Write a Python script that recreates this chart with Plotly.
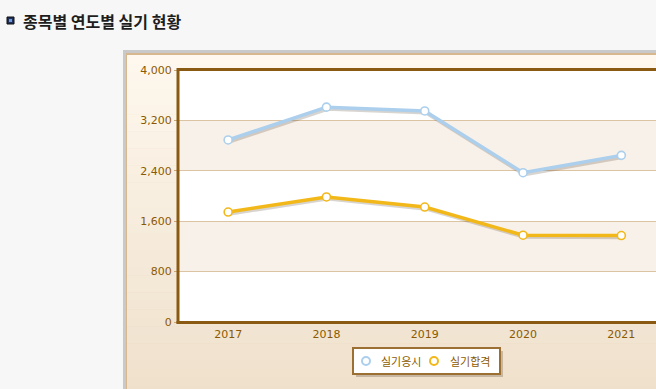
import plotly.graph_objects as go

years = ["2017", "2018", "2019", "2020", "2021"]
applied = [2890, 3410, 3350, 2370, 2645]   # 실기응시
passed = [1745, 1985, 1825, 1378, 1372]    # 실기합격
series_names = ["실기응시", "실기합격"]
title_text = "종목별 연도별 실기 현황"

W, H = 656, 389
L, T, B = 179, 70, 322           # plot area pixel edges
PW = W - L
PH = B - T

def px(x):
    return (x - L) / PW

def py(y):
    return (B - y) / PH

xi = list(range(len(years)))
fig = go.Figure()

BLUE = "#abcfec"
GOLD = "#f2b81a"
BROWN = "#8a5a12"
TICKC = "#8b5a00"

# shadows
for vals in (applied, passed):
    fig.add_trace(go.Scatter(
        x=[v + 0.012 for v in xi], y=[v - 30 for v in vals], mode="lines",
        line=dict(color="rgba(60,40,20,0.2)", width=3.5), showlegend=False, hoverinfo="skip"))

for nm, vals, c in zip(series_names, (applied, passed), (BLUE, GOLD)):
    fig.add_trace(go.Scatter(x=xi, y=vals, mode="lines+markers", name=nm,
                             line=dict(color=c, width=3.5),
                             marker=dict(size=8, color="white", line=dict(color=c, width=1.6)),
                             showlegend=False))

shapes = []
# container gray border
shapes.append(dict(type="rect", xref="paper", yref="paper", layer="below",
                   x0=px(123), x1=px(W + 20), y0=py(H + 20), y1=py(50),
                   fillcolor="#c9c9c9", line=dict(width=0)))
shapes.append(dict(type="rect", xref="paper", yref="paper", layer="below",
                   x0=px(126), x1=px(W + 20), y0=py(H + 20), y1=py(53),
                   fillcolor="#d7b88e", line=dict(width=0)))
# gradient background strips
top_c = (0xfe, 0xf8, 0xee)
bot_c = (0xef, 0xe0, 0xcb)
y0, y1 = 55, H + 5
n = 40
for i in range(n):
    a = y0 + (y1 - y0) * i / n
    b = y0 + (y1 - y0) * (i + 1) / n
    t = (i + 0.5) / n
    c = tuple(round(top_c[k] + (bot_c[k] - top_c[k]) * t) for k in range(3))
    shapes.append(dict(type="rect", xref="paper", yref="paper", layer="below",
                       x0=px(127), x1=px(W + 20), y0=py(b + 0.5), y1=py(a),
                       fillcolor="rgb(%d,%d,%d)" % c, line=dict(width=0)))
# plot background + alternating bands
shapes.append(dict(type="rect", xref="paper", yref="paper", layer="below",
                   x0=0, x1=px(W + 20), y0=0, y1=1, fillcolor="white", line=dict(width=0)))
for lo, hi in ((800, 1600), (2400, 3200)):
    shapes.append(dict(type="rect", xref="paper", yref="y", layer="below",
                       x0=0, x1=px(W + 20), y0=lo, y1=hi, fillcolor="#f8f1e9", line=dict(width=0)))
# frame lines (top, left, bottom)
shapes.append(dict(type="line", xref="paper", yref="paper", x0=px(L - 1.5), x1=px(W + 20),
                   y0=py(T - 0.5), y1=py(T - 0.5), line=dict(color=BROWN, width=3)))
shapes.append(dict(type="line", xref="paper", yref="paper", x0=px(L - 1), x1=px(L - 1),
                   y0=py(B + 1.5), y1=py(T - 2), line=dict(color=BROWN, width=3)))
shapes.append(dict(type="line", xref="paper", yref="paper", x0=px(L - 2.5), x1=px(W + 20),
                   y0=py(B + 0.5), y1=py(B + 0.5), line=dict(color=BROWN, width=3)))

# manual legend
LX0, LY0, LX1, LY1 = 353, 348, 500, 374
shapes.append(dict(type="rect", xref="paper", yref="paper",
                   x0=px(LX0 + 3), x1=px(LX1 + 3), y0=py(LY1 + 3), y1=py(LY0 + 3),
                   fillcolor="rgba(90,70,50,0.28)", line=dict(width=0)))
shapes.append(dict(type="rect", xref="paper", yref="paper",
                   x0=px(LX0), x1=px(LX1), y0=py(LY1), y1=py(LY0),
                   fillcolor="white", line=dict(color="#9c7032", width=2)))
annotations = []
leg_items = [(366, 379), (434, 448)]
for (cx, tx), nm, c in zip(leg_items, series_names, (BLUE, GOLD)):
    cy = (LY0 + LY1) / 2
    shapes.append(dict(type="circle", xref="paper", yref="paper",
                       x0=px(cx - 4), x1=px(cx + 4), y0=py(cy + 4), y1=py(cy - 4),
                       fillcolor="white", line=dict(color=c, width=2)))
    annotations.append(dict(text=nm, xref="paper", yref="paper", x=px(tx), y=py(cy),
                            xanchor="left", yanchor="middle", showarrow=False,
                            font=dict(family="Noto Sans CJK KR", size=11, color=TICKC)))

# title icon
shapes.append(dict(type="rect", xref="paper", yref="paper",
                   x0=px(7), x1=px(14), y0=py(24), y1=py(17),
                   fillcolor="#1f2f5a", line=dict(color="#111", width=1)))
shapes.append(dict(type="rect", xref="paper", yref="paper",
                   x0=px(9), x1=px(12), y0=py(22), y1=py(19),
                   fillcolor="#6b9ad8", line=dict(width=0)))
annotations.append(dict(text="<b>" + title_text + "</b>", xref="paper", yref="paper",
                        x=px(21), y=py(21), xanchor="left", yanchor="middle", showarrow=False,
                        font=dict(family="Noto Sans CJK KR", size=16, color="#1e1e1e")))

fig.update_layout(
    width=W, height=H,
    margin=dict(l=L, r=0, t=T, b=H - B, pad=0),
    paper_bgcolor="#f7f7f7",
    plot_bgcolor="rgba(0,0,0,0)",
    shapes=shapes,
    annotations=annotations,
    showlegend=False,
    xaxis=dict(range=[-0.5, -0.5 + PW / 98.3], tickvals=xi, ticktext=years,
               showgrid=False, zeroline=False, showline=False, ticks="", ticklabelstandoff=4,
               tickfont=dict(family="DejaVu Sans", size=11, color=TICKC), fixedrange=True),
    yaxis=dict(range=[0, 4000], dtick=800, tickformat=",", showgrid=True, gridcolor="#dcc4a2",
               gridwidth=1, zeroline=False, showline=False,
               ticks="outside", ticklen=4, tickcolor="#c9a878",
               tickfont=dict(family="DejaVu Sans", size=11, color=TICKC), fixedrange=True),
    hovermode=False,
)

fig.write_html("out.html", config={"displayModeBar": False, "staticPlot": True},
               post_script="document.body.style.margin='0';document.body.style.overflow='hidden';")
